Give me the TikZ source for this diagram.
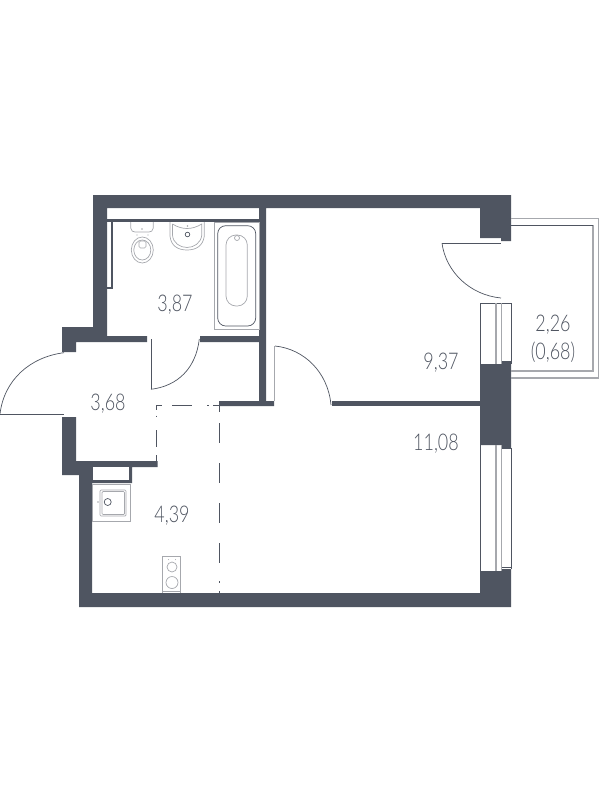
\documentclass[tikz,border=0pt]{standalone}
\usepackage{fontspec}
\setmainfont{Lato Light}[FakeStretch=0.78]
\definecolor{wallc}{HTML}{4F5561}
\definecolor{thinc}{HTML}{A6A8AD}
\tikzset{
	wall/.style = {fill=wallc, draw=none},
	thin/.style = {draw=thinc, line width=0.7pt},
	thick/.style = {draw=thinc, line width=1.6pt},
	dark/.style = {draw=wallc, line width=0.7pt},
	cut/.style = {draw=wallc, line width=0.9pt},
	area/.style = {text=wallc, font=\fontsize{23}{25}\selectfont, inner sep=0pt}
}
\begin{document}
\begin{tikzpicture}[x=1pt, y=-1pt]
	\useasboundingbox (0,0) rectangle (600,800);
	\fill[wall] (93,195) -- (511,195) -- (511,241) -- (501,241) -- (501,238) -- (480,238) -- (480,208) -- (266,208) -- (266,401) -- (274,401) -- (274,406) -- (219,406) -- (219,401) -- (259,401) -- (259,342) -- (200,342) -- (200,336) -- (259,336) -- (259,208) -- (107,208) -- (107,336) -- (147,336) -- (147,342) -- (76,342) -- (76,352) -- (62,352) -- (62,327) -- (93,327) -- cycle;
	\fill[wall] (107,219) rectangle (259,222);
	\fill[wall] (111,222) rectangle (112.7,289);
	\fill[wall] (107,287) rectangle (112.7,289);
	\fill[wall] (332,401) rectangle (480,406);
	\fill[wall] (62,417) -- (76,417) -- (76,461) -- (157.5,461) -- (157.5,467) -- (132,467) -- (132,483) -- (92,483) -- (92,593) -- (480,593) -- (480,571) -- (502,571) -- (502,569) -- (511,569) -- (511,607) -- (79,607) -- (79,475) -- (62,475) -- cycle;
	\fill[white] (93,467) rectangle (128.5,480);
	\fill[wall] (480,364) -- (502,364) -- (502,361) -- (511,361) -- (511,448) -- (502,448) -- (502,445) -- (480,445) -- cycle;
	\draw[dark] (480.4,303) -- (511.4,303) -- (511.4,364);
	\draw[dark] (480.4,303) -- (480.4,364);
	\draw[thick] (496,303) -- (496,364);
	\draw[thick] (501.6,303) -- (501.6,364);
	\draw[dark] (480.6,445) -- (480.6,571);
	\draw[dark] (511.4,448) -- (511.4,569);
	\draw[dark] (502,448) -- (511,448);
	\draw[thick] (496,445) -- (496,571);
	\draw[thick] (501.6,445) -- (501.6,571);
	\draw[dark] (502,567) -- (511,567);
	\draw[thick] (511,218.5) -- (598.5,218.5) -- (598.5,378) -- (511,378);
	\draw[thick] (593,225) -- (593,371) -- (511,371);
	\draw[dark] (511,225) -- (593,225);
	\draw[cut] (0,414.3) -- (64,414.3);
	\draw[dark] (0,414) .. controls (4,380) and (30,357) .. (64,352.7);
	\draw[cut] (151,339) -- (151,389.3);
	\draw[dark] (151,389.3) .. controls (178,386) and (196,368) .. (199.3,339);
	\draw[thick] (274.5,346) -- (274.5,401);
	\draw[dark] (275,346) .. controls (304,349) and (328,372) .. (331,405);
	\draw[dark] (442,243.3) -- (501,243.3);
	\draw[dark] (442,243.3) .. controls (446,272) and (470,295) .. (501,298);
	\draw[cut, dash pattern=on 7pt off 11pt on 20pt off 20pt on 20pt off 20pt on 20pt off 20pt on 20pt off 18pt on 2pt off 8pt on 3pt] (219.5,405) -- (219.5,594);
	\draw[cut, dash pattern=on 6pt off 10pt on 20pt off 15pt on 2pt off 4pt on 6pt] (156,405.7) -- (219,405.7);
	\draw[cut, dash pattern=on 4.5pt off 5.5pt on 1pt off 13.5pt on 17pt off 8pt on 6pt] (156.5,405.7) -- (156.5,461);
	\draw[thin] (130.7,222) -- (130.7,228) .. controls (131,231) and (133,232) .. (135,232) -- (149,232) .. controls (151,232) and (153,231) .. (153.3,228) -- (153.3,222);
	\draw[thin] (142.3,250) ellipse [x radius=11, y radius=13];
	\draw[thin] (142.3,250) ellipse [x radius=8.5, y radius=10];
	\draw[thin, rounded corners=1.5pt] (139,241) rectangle (146,248);
	\fill[thinc] (142,229) circle (0.8) (137,235) circle (0.7) (148,235) circle (0.7);
	\draw[thin] (170,222) -- (170,236) .. controls (171,246) and (178,250) .. (187,250) .. controls (196,250) and (203,246) .. (204.3,236) -- (204.3,222);
	\draw[thin] (172.5,224) -- (172.5,235) .. controls (173,243) and (180,247.5) .. (187,247.5) .. controls (194,247.5) and (201,243) .. (201.8,235) -- (201.8,224) .. controls (192,230) and (182,230) .. (172.5,224);
	\draw[dark] (187.5,234.5) circle (2.3);
	\fill[thinc] (187.5,226) circle (0.9);
	\draw[thin] (214.3,222) rectangle (259,329.3);
	\draw[dark, rounded corners=8pt] (217.7,225.7) rectangle (255.7,326);
	\draw[thin, rounded corners=10pt] (226,235) rectangle (247.3,306);
	\draw[thin] (237,238) circle (2.5);
	\draw[thin] (92.7,484) rectangle (130.7,521);
	\draw[thin, rounded corners=1pt] (100,490) rectangle (126,516);
	\draw[thin, rounded corners=1pt] (102,491.5) rectangle (124.5,514.5);
	\draw[dark] (107.7,502) circle (3.5);
	\fill[thinc] (98,502) circle (0.8);
	\draw[thin] (162.3,593) -- (162.3,556) -- (180.7,556) -- (180.7,593);
	\draw[thin] (162.3,591) -- (180.7,591);
	\draw[thin] (172,567) circle (5);
	\draw[thin] (172,582.5) circle (6);
	\fill[thinc] (168.5,559.5) circle (0.5) (175.5,559.5) circle (0.5);
	\node[area] (bath) at (175,304.5) {3,87};
	\node[area] (hall) at (108,403.5) {3,68};
	\node[area] (kitchen) at (172,515.5) {4,39};
	\node[area] (bedroom) at (441,362.5) {9,37};
	\node[area] (living) at (436,443.5) {11,08};
	\node[area] (balcony) at (553,324.5) {2,26};
	\node[area] (balconyk) at (553,352) {(0,68)};
\end{tikzpicture}
\end{document}
